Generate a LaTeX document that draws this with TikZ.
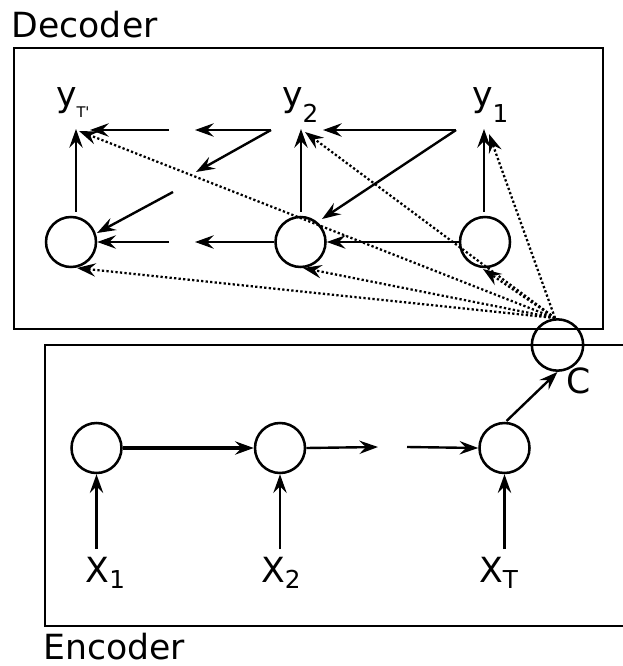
\documentclass[tikz,border=0pt]{standalone}
\usepackage{fontspec}
\setmainfont{DejaVu Sans}
\usetikzlibrary{arrows.meta}
\newcommand\sublow[2]{\raisebox{#1}{\fontsize{18.5pt}{18.5pt}\selectfont #2}}
\begin{document}
\begin{tikzpicture}[x=0.75pt,y=-0.75pt,
  ln/.style={line width=1.8pt},
  tipstyle/.style={-{Stealth[length=14pt,width=10pt,inset=5pt]}},
  arr/.style={ln,tipstyle},
  dotarr/.style={line width=1.7pt,dash pattern=on 1.7pt off 1.7pt,tipstyle},
  cell/.style={circle,draw,line width=1.9pt,minimum size=37.5pt,inner sep=0pt},
  lbl/.style={anchor=base west,inner sep=0pt,outer sep=0pt,font=\fontsize{26pt}{30pt}\selectfont},
  boxline/.style={line width=1.8pt}]
\useasboundingbox (0,0) rectangle (623,666);
\clip (0,0) rectangle (623,666);

% frames
\draw[boxline] (14,48) rectangle (603,329);
\draw[boxline] (45,345) rectangle (700,626);
\node[lbl] (dec) at (11.7,38) {Decoder};
\node[lbl] (enc) at (43.4,659.5) {Encoder};

% labels
\node[lbl] (yT) at (56,107) {y\raisebox{-8.25pt}{\fontsize{11pt}{11pt}\selectfont T\textquotesingle}};
\node[lbl] (y2) at (282,107) {y\sublow{-12pt}{2}};
\node[lbl] (y1) at (472,107) {y\sublow{-12pt}{1}};
\node[lbl] (x1) at (85.7,582) {X\sublow{-4.5pt}{1}};
\node[lbl] (x2) at (261,582) {X\sublow{-4.5pt}{2}};
\node[lbl] (xT) at (479,582) {X\sublow{-4.5pt}{T}};
\node[lbl] (cl) at (566,393) {C};

% cells
\node[cell] (dL) at (71,242) {};
\node[cell] (dM) at (300.5,242) {};
\node[cell] (dR) at (485,242) {};
\node[cell] (eL) at (96.5,448) {};
\node[cell] (eM) at (280,448) {};
\node[cell] (eR) at (504.5,448) {};
\node[cell,minimum size=38.5pt] (cc) at (557.5,345) {};

% decoder coordinates
\coordinate (dLup) at (76,212);  \coordinate (yTb) at (76,129);
\coordinate (dMup) at (301,212); \coordinate (y2b) at (301,129);
\coordinate (dRup) at (484,212); \coordinate (y1b) at (484,129);
\coordinate (g1) at (169,130);   \coordinate (yTr) at (90,130);
\coordinate (g2) at (271,130);   \coordinate (g2t) at (195,130);
\coordinate (g3t) at (196,172);
\coordinate (g4) at (173,192);   \coordinate (dLne) at (97,233);
\coordinate (g5) at (169,242);   \coordinate (g6t) at (195,242);
\coordinate (h1) at (456,130);   \coordinate (y2r) at (323,130);
\coordinate (dMne) at (322,219);

\draw[arr] (dLup) -- (yTb);
\draw[arr] (dMup) -- (y2b);
\draw[arr] (dRup) -- (y1b);
\draw[arr] (g1) -- (yTr);
\draw[arr] (g2) -- (g2t);
\draw[arr] (g2) -- (g3t);
\draw[arr] (g4) -- (dLne);
\draw[arr] (g5) -- (dL.east);
\draw[arr] (dM.west) -- (g6t);
\draw[arr] (h1) -- (y2r);
\draw[arr] (h1) -- (dMne);
\draw[arr] (dR.west) -- (dM.east);

% context vector attention (dotted)
\coordinate (co) at (555,318);
\coordinate (yTd) at (79,131);
\coordinate (y2d) at (305,132);
\coordinate (y1d) at (489,134);
\coordinate (dLd) at (77,268);
\coordinate (dMd) at (303,268);
\coordinate (dRd) at (483,269);
\foreach \t in {yTd,y2d,y1d,dLd,dMd,dRd} \draw[dotarr] (co) -- (\t);

% encoder
\coordinate (k1) at (378,447);
\coordinate (k2) at (407,447);
\coordinate (eRup) at (506.5,421);
\coordinate (x1u) at (96.5,549);
\coordinate (x2u) at (280,549);
\coordinate (xTu) at (504.5,549);
\draw[arr,line width=2.3pt] (eL.east) -- (eM.west);
\draw[arr] (eM.east) -- (k1);
\draw[arr] (k2) -- (eR.west);
\draw[arr] (eRup) -- (cc.south);
\draw[arr] (x1u) -- (eL.south);
\draw[arr] (x2u) -- (eM.south);
\draw[arr] (xTu) -- (eR.south);
\end{tikzpicture}
\end{document}
